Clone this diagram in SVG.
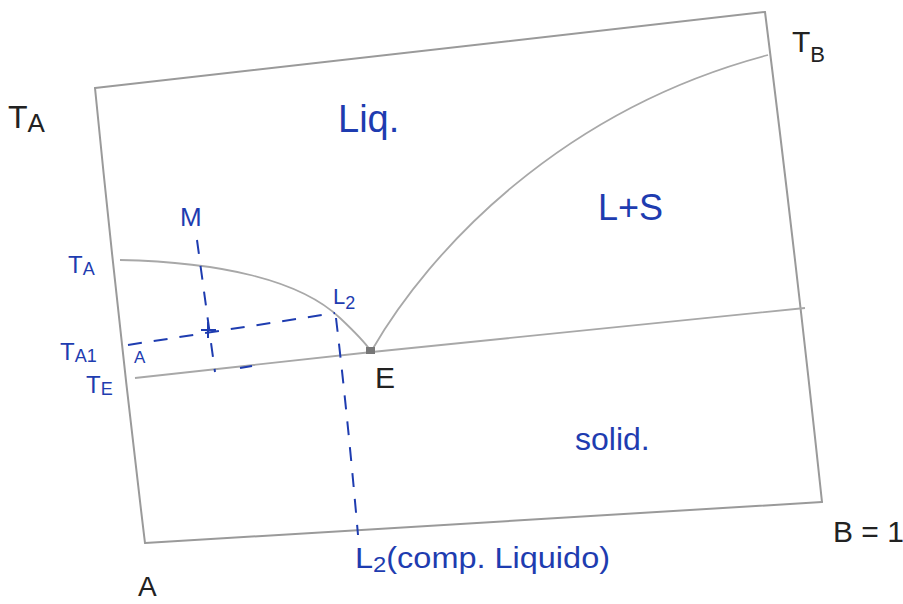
<svg xmlns="http://www.w3.org/2000/svg" width="903" height="604" viewBox="0 0 903 604">
<style>
.ax{fill:none;stroke:#9a9a9a;stroke-width:2;stroke-linecap:round}
.cv{fill:none;stroke:#a8a8a8;stroke-width:1.8}
.dash{fill:none;stroke:#1e3cb0;stroke-width:2;stroke-dasharray:14 12}
.bl{font-family:"Liberation Sans",Arial,sans-serif;fill:#1e3cb0}
.bk{font-family:"Liberation Sans",Arial,sans-serif;fill:#222}
</style>
<rect width="903" height="604" fill="#fff"/>
<g id="frame">
<path class="ax" d="M95,88 L765,12"/>
<path class="ax" d="M95,88 Q118,320 145,543"/>
<path class="ax" d="M765,12 Q795,250 822,502"/>
<path class="ax" d="M145,543 L822,502"/>
</g>
<g id="curves">
<path class="cv" d="M135,378 L372,352 L805,308"/>
<path class="cv" d="M120,260 C220,262 300,280 340,318 C358,335 366,344 370,350"/>
<path class="cv" d="M372,350 C430,250 560,110 768,55"/>
<rect x="366" y="347" width="9" height="7" fill="#777"/>
</g>
<g id="connectors">
<path class="dash" d="M197,240 L215,372"/>
<path class="dash" d="M128,345 L335,313"/>
<path class="dash" d="M336,318 Q348,420 358,535"/>
<path d="M201,330 L216,330 M208,322 L208,338" stroke="#1e3cb0" stroke-width="2"/>
<path d="M240,368 L252,366" stroke="#1e3cb0" stroke-width="2"/>
</g>
<g id="labels">
<text class="bk" x="8" y="128" font-size="32">T<tspan font-size="26" dy="4">A</tspan></text>
<text class="bk" x="792" y="52" font-size="30">T<tspan font-size="22" dy="10">B</tspan></text>
<text class="bl" x="338" y="132" font-size="38">Liq.</text>
<text class="bl" x="598" y="220" font-size="36">L+S</text>
<text class="bl" x="575" y="450" font-size="32">solid.</text>
<text class="bl" x="68" y="273" font-size="24">T<tspan font-size="18" dy="2">A</tspan></text>
<text class="bl" x="60" y="360" font-size="24">T<tspan font-size="18" dy="2">A1</tspan></text>
<text class="bl" x="134" y="363" font-size="17">A</text>
<text class="bl" x="86" y="393" font-size="24">T<tspan font-size="18" dy="2">E</tspan></text>
<text class="bl" x="180" y="226" font-size="26">M</text>
<text class="bl" x="333" y="304" font-size="22">L<tspan font-size="18" dy="5">2</tspan></text>
<text class="bk" x="375" y="388" font-size="30">E</text>
<text class="bl" x="355" y="568" font-size="30" textLength="255" lengthAdjust="spacingAndGlyphs">L<tspan font-size="22" dy="4">2</tspan><tspan dy="-4">(comp. Liquido)</tspan></text>
<text class="bk" x="833" y="542" font-size="30">B = 1</text>
<text class="bk" x="138" y="596" font-size="28">A</text>
</g>
</svg>
